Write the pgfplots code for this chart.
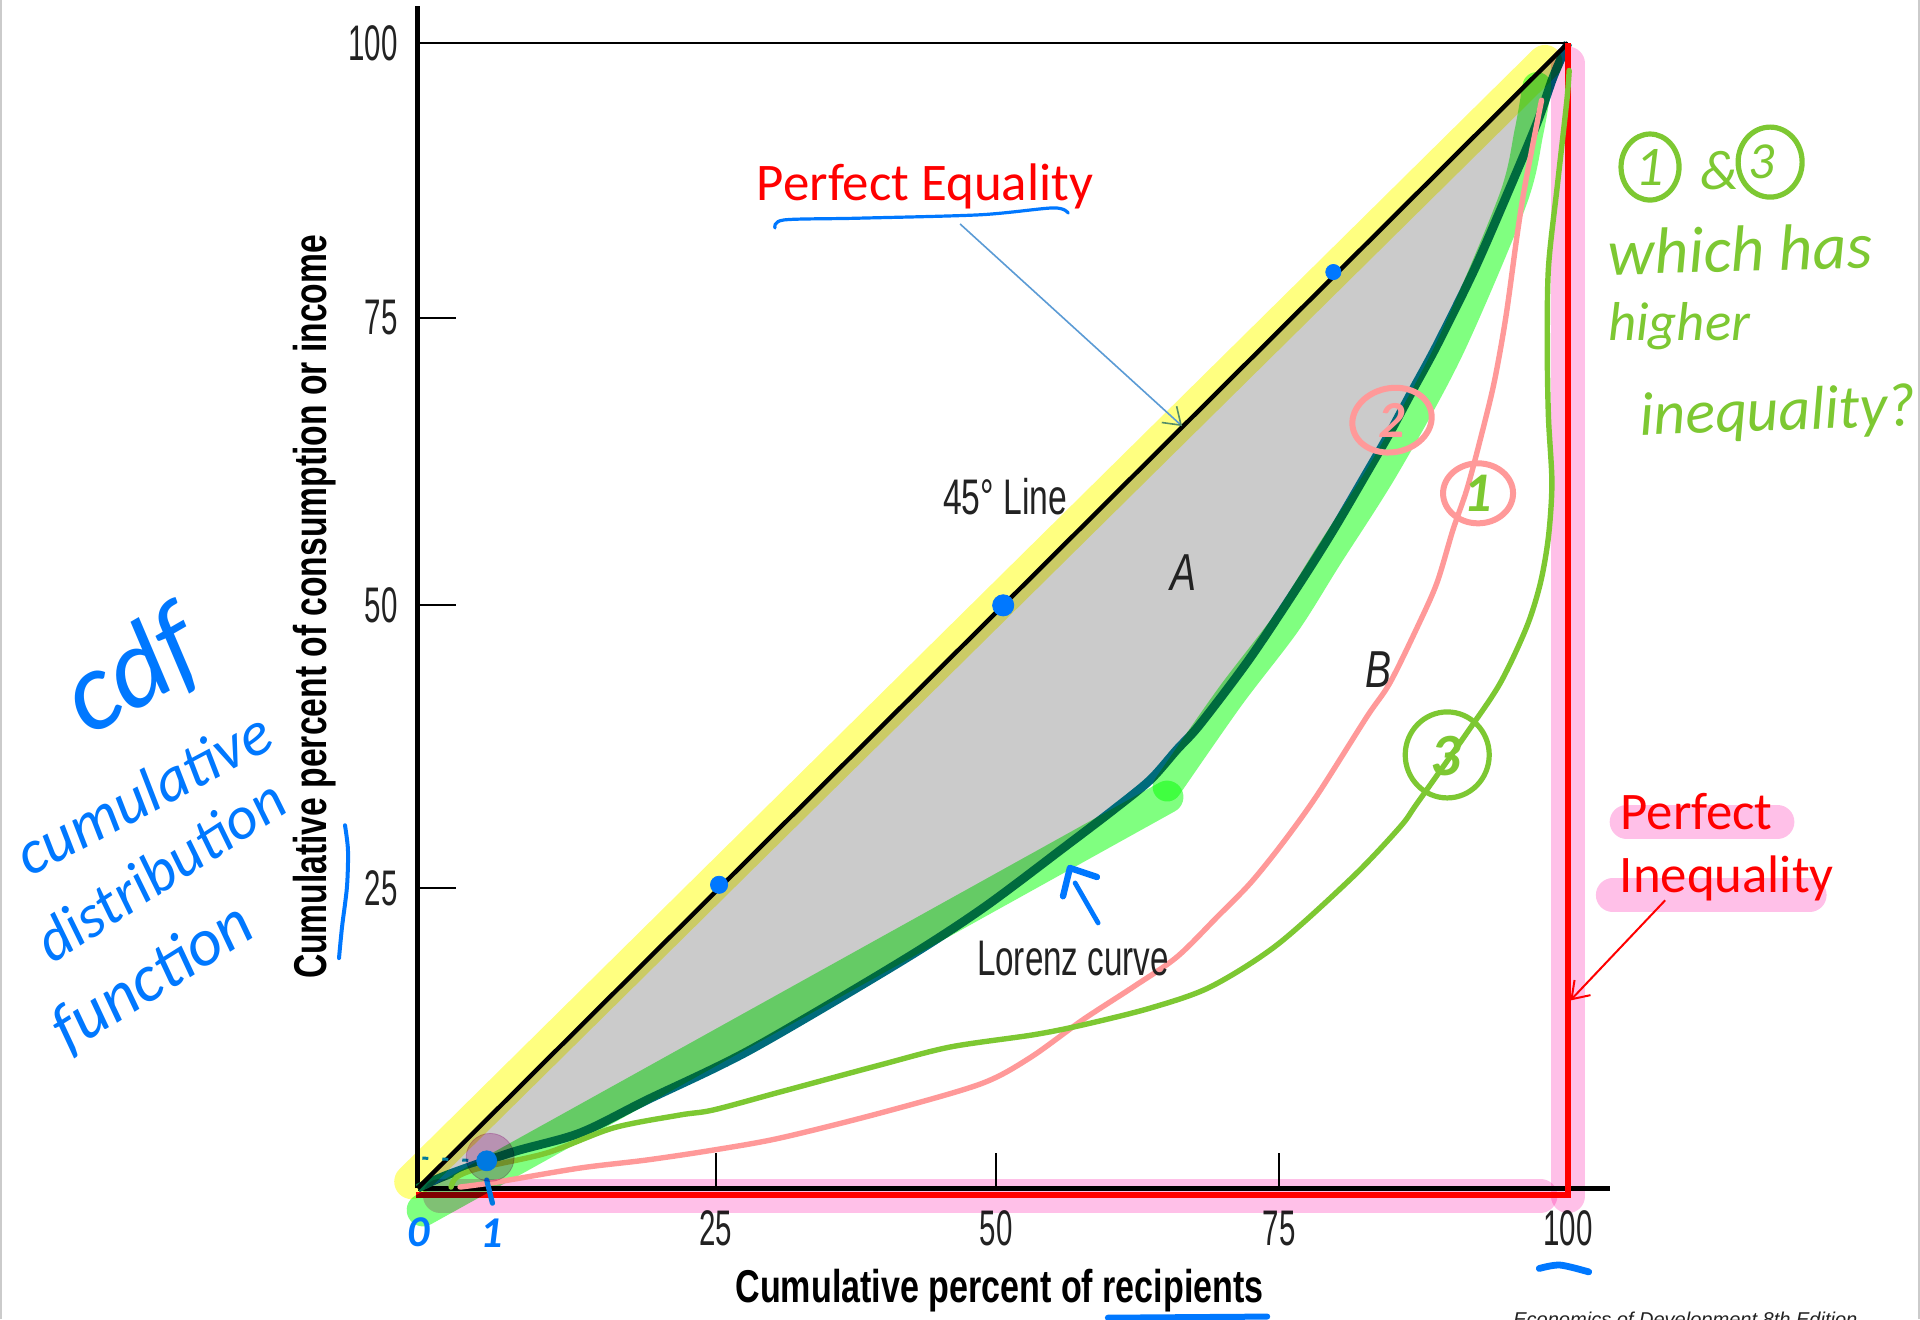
\documentclass[border=0pt]{standalone}
\usepackage{pgfplots}
\pgfplotsset{compat=1.18}
\usepackage{fontspec}
\usepackage{graphicx}
\usetikzlibrary{arrows.meta}
\setmainfont{Liberation Sans}
\newfontfamily\carl{Carlito}
\definecolor{hyellow}{HTML}{FFFF80}
\definecolor{hgreen}{HTML}{80FF80}
\definecolor{hpink}{HTML}{FFC0E8}
\definecolor{hpurple}{HTML}{E8B8E0}
\definecolor{areagray}{HTML}{CBCBCB}
\definecolor{lorenzblue}{HTML}{006B7C}
\definecolor{penblue}{HTML}{0078FF}
\definecolor{pengreen}{HTML}{7DC832}
\definecolor{penpink}{HTML}{FF9999}
\definecolor{penteal}{HTML}{007A9A}
\definecolor{arrowblue}{HTML}{5B9BD5}
\definecolor{inkgray}{HTML}{222222}
\newcommand\tk[1]{\scalebox{.59}[1]{\fontsize{25}{25}\selectfont\color{inkgray}#1}}
\newcommand\cn[3]{\resizebox{#1}{\height}{\fontsize{#2}{#2}\selectfont #3}}
\newcommand\hw[2]{\resizebox{#1}{!}{\carl\itshape #2}}
\tikzset{hl/.style={line cap=round,line join=round,blend mode=multiply},
  pen/.style={line cap=round,line join=round}}
\begin{document}
\begin{tikzpicture}[x=1pt,y=1pt]
\path[use as bounding box,fill=white] (-208.85pt,-65.35pt) rectangle (751.15pt,594.15pt);
\draw[areagray,line width=1pt] (-208.35pt,-65.35pt) -- (-208.35pt,594.15pt);
\draw[areagray,line width=1pt] (750.65pt,-65.35pt) -- (750.65pt,594.15pt);
\begin{axis}[
  at={(0pt,0pt)},anchor=origin,
  scale only axis,width=596.15pt,height=591.15pt,
  xmin=0,xmax=103.65,ymin=0,ymax=103.23,
  clip=false,
  axis lines=left,
  axis line style={-,black,line width=2.3pt},
  tick align=inside,
  xtick={25.9,50.3,74.9,100},
  xticklabels={\tk{25},\tk{50},\tk{75},\tk{100}},
  ytick={26.2,50.9,76,100},
  yticklabels={\tk{25},\tk{50},\tk{75},\tk{100}},
  xtick style={black,line width=1pt,/pgfplots/major tick length=17.5pt},
  ytick style={black,line width=1pt,/pgfplots/major tick length=19pt},
  xticklabel style={anchor=north,yshift=-7.7pt},
  yticklabel style={anchor=east,xshift=-6.5pt},
  xlabel={\cn{264pt}{23}{\bfseries Cumulative percent of recipients}},
  ylabel={\cn{372pt}{23}{\bfseries Cumulative percent of consumption or income}},
  xlabel style={at={(axis description cs:.488,-.097)},anchor=base},
  ylabel style={at={(axis description cs:-.0761,.4917)},anchor=base},
]
% area A
\addplot[fill=areagray,draw=none] coordinates {(0,0)(2.55,1.16)(8.28,3.17)(14.11,4.83)(19.93,7.71)(28.89,12.08)(41.93,19.76)(49.15,24.47)(56.46,29.97)(60.46,33.03)(63.67,35.65)(66,38.3)(68,40.5)(72.36,46.3)(76.7,52.85)(79.6,57.48)(82.5,62.46)(84.5,65.95)(86.5,69.7)(88.6,73.6)(91.8,80.1)(94.5,86.3)(97.3,93)(98.7,97)(100,100)} -- cycle;
% Lorenz curve
\addplot[lorenzblue,line width=4.4pt,smooth,tension=.5] coordinates {(0,0)(2.55,1.16)(8.28,3.17)(14.11,4.83)(19.93,7.71)(28.89,12.08)(41.93,19.76)(49.15,24.47)(56.46,29.97)(60.46,33.03)(63.67,35.65)(66,38.3)(68,40.5)(72.36,46.3)(76.7,52.85)(79.6,57.48)(82.5,62.46)(84.5,65.95)(86.5,69.7)(88.6,73.6)(91.8,80.1)(94.5,86.3)(97.3,93)(98.7,97)(100,100)};
% 45 degree line and top line
\addplot[black,line width=2.2pt] coordinates {(0,0)(100,100)};
\addplot[black,line width=1.2pt] coordinates {(0,100)(100,100)};
% pink highlights
\addplot[hl,hpink,line width=17pt] coordinates {(1.94,-0.63)(97.6,-0.63)};
\addplot[hl,hpink,line width=17pt] coordinates {(100,98.2)(100,-0.68)};
\addplot[hl,hpink,line width=17pt] coordinates {(105.1,32)(118.2,32)};
\addplot[hl,hpink,line width=17pt] coordinates {(103.9,25.6)(121,25.6)};
% perfect inequality line
\addplot[red,line width=2.8pt] coordinates {(-0.15,-0.59)(100,-0.59)(100,100)};
% yellow highlight
\addplot[hl,hyellow,line width=17.5pt] coordinates {(-0.52,0.58)(98,98.3)};
% green highlights
\addplot[hl,hgreen,line width=16.3pt] coordinates {(0.46,-1.9)(65.15,34.17)};
\addplot[hl,hgreen,line width=14.5pt,smooth,tension=.5] coordinates {(65.15,35.04)(70.6,42.9)(75.5,49.36)(79.1,55.1)(84.1,63)(89.65,73.2)(95.2,86.3)(96.6,92.2)(97.3,96.2)};
% purple spot
\addplot[hl,only marks,color=hpurple,mark=*,mark size=12pt,mark options={fill=hpurple,draw=hpurple,blend mode=multiply}] coordinates {(6.3,2.7)};
% curve 1
\addplot[pen,penpink,line width=2.7pt,smooth,tension=.5] coordinates {(3.68,0.11)(6.9,0.55)(14.1,1.77)(19.9,2.47)(25.7,3.34)(31.5,4.39)(40.2,6.57)(48.9,9.1)(53.2,11.38)(57.8,14.7)(62.2,17.58)(66,20.2)(69.5,23.69)(72.4,26.66)(75.2,30.15)(78.2,34.34)(82.5,41.15)(84.5,44.1)(86.9,49)(88.6,52.85)(90,57.5)(91.2,61)(92.36,65.33)(93.57,70.32)(94.6,76.1)(95.6,83.4)(96.3,87.8)(97.7,95)};
% curve 3
\addplot[pen,pengreen,line width=2.7pt,smooth,tension=.5] coordinates {(2.9,0.11)(3.4,0.99)(5.4,1.77)(11.2,3.08)(17,5.27)(22.8,6.4)(25.7,6.84)(31.5,8.41)(40.2,10.77)(46.3,12.34)(53.5,13.4)(57.8,14.26)(63.7,15.74)(68.9,17.58)(74.7,21.25)(81.3,27.2)(85.4,31.55)(86.9,33.64)(91.2,39.75)(94.1,44.1)(96.4,49)(97.6,52.85)(98.3,56.9)(98.6,61.6)(98.3,67.3)(98.2,73.2)(98.3,80.4)(99.1,87.8)(99.9,95)(100.1,97.6)};
% blue dots
\addplot[only marks,color=penblue,mark=*,mark size=4.3pt,mark options={fill=penblue,draw=penblue}] coordinates {(26.2,26.5)};
\addplot[only marks,color=penblue,mark=*,mark size=5.3pt,mark options={fill=penblue,draw=penblue}] coordinates {(50.9,50.9)};
\addplot[only marks,color=penblue,mark=*,mark size=3.8pt,mark options={fill=penblue,draw=penblue}] coordinates {(79.6,80)};
\addplot[only marks,color=penblue!70!penteal,mark=*,mark size=5pt,mark options={fill=penblue!70!penteal,draw=penblue!70!penteal}] coordinates {(6,2.4)};
% pen marks
\addplot[penteal,line width=1.5pt,dash pattern=on 3pt off 7pt] coordinates {(0.4,2.64)(5.3,2.4)};
\addplot[pen,penblue!70!penteal,line width=2.6pt] coordinates {(6,0.72)(6.5,-1.3)};
\addplot[pen,penblue,line width=1.6pt,smooth] coordinates {(31.06,83.85)(31.84,84.55)(38.2,84.7)(48.9,85)(55.25,85.6)(56.55,85.15)};
\addplot[pen,penblue,line width=2pt,smooth] coordinates {(-6.32,31.7)(-6.06,29.5)(-6.15,26.3)(-6.58,22.8)(-6.84,20.1)};
\addplot[pen,penblue,line width=3.4pt,smooth] coordinates {(97.5,-7)(99.3,-6.7)(101.8,-7.3)};
\addplot[pen,penblue,line width=3pt] coordinates {(60,-11.3)(73.85,-11.2)};
% blue arrow
\addplot[pen,penblue,line width=2.4pt] coordinates {(59.15,23.17)(57.15,26.66)};
\addplot[pen,penblue,line width=3.2pt] coordinates {(56.1,25.5)(56.7,27.97)(59.05,27.18)};
% thin arrows
\addplot[arrowblue,line width=.8pt,-{Straight Barb[length=8pt,width=11pt,color=arrowblue!50!pengreen!80!black]}] coordinates {(47.15,84.2)(66.45,66.55)};
\addplot[red,line width=1pt,-{Straight Barb[length=8pt,width=11pt]}] coordinates {(108.45,25.15)(100.2,16.4)};
% printed labels
\node[anchor=center,inner sep=0pt] at (axis cs:51.06,60.36) {\cn{62pt}{25}{\color{inkgray}45° Line}};
\node[anchor=center,inner sep=0pt] at (axis cs:66.53,53.72) {\cn{13pt}{26}{\color{inkgray}\itshape A}};
\node[anchor=center,inner sep=0pt] at (axis cs:83.5,45.26) {\cn{13pt}{26}{\color{inkgray}\itshape B}};
\node[anchor=center,inner sep=0pt] at (axis cs:56.97,20.1) {\cn{96pt}{25}{\color{inkgray}Lorenz curve}};
\node[anchor=base,inner sep=0pt] at (axis cs:110.2,-12.1) {\cn{172pt}{10}{\color{inkgray}\itshape Economics of Development 8th Edition}};
% red typed labels
\node[red,inner sep=0pt] at (axis cs:44.1,87.5) {\resizebox{168pt}{!}{\carl Perfect Equality}};
\node[red,inner sep=0pt] at (axis cs:111.17,32.86) {\resizebox{76pt}{!}{\carl Perfect}};
\node[red,inner sep=0pt] at (axis cs:113.8,27.1) {\resizebox{107pt}{!}{\carl Inequality}};
% circled numbers
\draw[penpink,line width=3pt,rotate around={12:(axis cs:84.7,67.07)}] (axis cs:84.7,67.07) ellipse [x radius=20pt,y radius=16pt];
\draw[penpink,line width=3pt] (axis cs:92.18,60.68) ellipse [x radius=17.5pt,y radius=15pt];
\draw[pengreen,line width=2.6pt] (axis cs:89.5,37.84) ellipse [x radius=21pt,y radius=21.5pt];
\draw[pengreen,line width=2.6pt] (axis cs:107.13,89.17) ellipse [x radius=14.5pt,y radius=16.5pt];
\draw[pengreen,line width=2.6pt] (axis cs:117.57,89.6) ellipse [x radius=16pt,y radius=17.5pt];
\node[penpink,inner sep=0pt] at (axis cs:84.7,67.07) {\fontsize{26}{26}\selectfont\carl\itshape\bfseries 2};
\node[pengreen,inner sep=0pt] at (axis cs:92.18,60.68) {\fontsize{28}{28}\selectfont\carl\itshape\bfseries 1};
\node[pengreen,inner sep=0pt] at (axis cs:89.4,37.7) {\fontsize{30}{30}\selectfont\carl\itshape\bfseries 3};
\node[pengreen,inner sep=0pt] at (axis cs:107.13,89.17) {\fontsize{28}{28}\selectfont\carl\itshape 1};
\node[pengreen,inner sep=0pt] at (axis cs:116.87,89.6) {\fontsize{26}{26}\selectfont\carl\itshape 3};
\node[pengreen,inner sep=0pt] at (axis cs:113.2,88.9) {\fontsize{28}{28}\selectfont\carl\itshape\&};
% green note
\node[pengreen,inner sep=0pt,rotate=1.5] at (axis cs:114.96,82) {\hw{132pt}{which has}};
\node[pengreen,inner sep=0pt] at (axis cs:109.65,75.3) {\hw{71pt}{higher}};
\node[pengreen,inner sep=0pt,rotate=2] at (axis cs:118.26,67.6) {\hw{138pt}{inequality?}};
% blue note
\node[penblue,inner sep=0pt,rotate=30] at (axis cs:-24.75,44.9) {\hw{70pt}{cdf}};
\node[penblue,inner sep=0pt,rotate=28] at (axis cs:-23.87,34.5) {\hw{140pt}{cumulative}};
\node[penblue,inner sep=0pt,rotate=33] at (axis cs:-22.4,27.8) {\hw{142pt}{distribution}};
\node[penblue,inner sep=0pt,rotate=32] at (axis cs:-23,18.36) {\hw{112pt}{function}};
\node[penblue,inner sep=0pt] at (axis cs:0.11,-3.82) {\fontsize{22}{22}\selectfont\carl\itshape\bfseries 0};
\node[penblue,inner sep=0pt] at (axis cs:6.46,-3.9) {\fontsize{22}{22}\selectfont\carl\itshape\bfseries 1};
\end{axis}
\end{tikzpicture}
\end{document}
